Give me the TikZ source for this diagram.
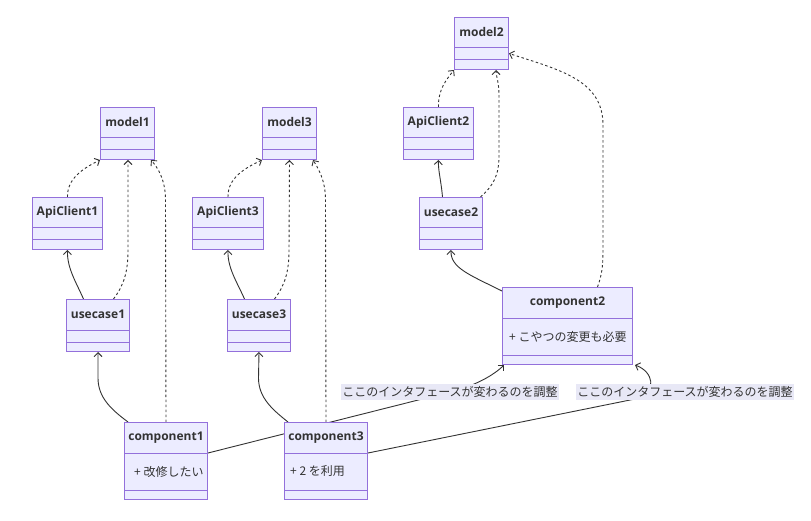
\documentclass[tikz,border=0pt]{standalone}
\usepackage{fontspec}
\setmainfont{Open Sans}
\newfontfamily\jp{Noto Sans CJK JP}
\usetikzlibrary{arrows.meta}
\definecolor{boxfill}{HTML}{ECECFF}
\definecolor{boxdraw}{HTML}{9370DB}
\definecolor{ink}{HTML}{333333}
\definecolor{lblfill}{HTML}{E8E8F6}
\pgfdeclarelayer{bg}
\pgfsetlayers{bg,main}
\tikzset{
  umlbox/.style={draw=boxdraw, fill=boxfill, line width=1pt, inner sep=0pt},
  umlline/.style={draw=boxdraw, line width=1pt},
  umltitle/.style={text=ink, font=\bfseries\fontsize{12}{14}\selectfont, inner sep=0pt},
  umlattr/.style={text=ink, font=\jp\fontsize{12}{14}\selectfont, inner sep=0pt},
  edgelbl/.style={text=ink, fill=lblfill, font=\jp\fontsize{12}{14}\selectfont, inner xsep=1pt, inner ysep=2pt},
  tip/.style={-{Straight Barb[length=4pt,width=8pt]}},
  dep/.style={draw=ink, line width=0.9pt, dash pattern=on 2.5pt off 2.5pt, tip},
  assoc/.style={draw=ink, line width=0.9pt, tip},
}
% name, left, top, width, title
\newcommand\umlclass[5]{%
  \node[umlbox, minimum width=#4, minimum height=52, anchor=north west] (#1) at (#2,#3) {};
  \draw[umlline] ([yshift=-31]#1.north west) -- ([yshift=-31]#1.north east);
  \draw[umlline] ([yshift=-43]#1.north west) -- ([yshift=-43]#1.north east);
  \node[umltitle] (#1-title) at ([yshift=-15.5]#1.north) {#5};
}
% name, left, top, width, title, attr x offset, attr
\newcommand\umlclassattr[7]{%
  \node[umlbox, minimum width=#4, minimum height=77, anchor=north west] (#1) at (#2,#3) {};
  \draw[umlline] ([yshift=-31]#1.north west) -- ([yshift=-31]#1.north east);
  \draw[umlline] ([yshift=-68]#1.north west) -- ([yshift=-68]#1.north east);
  \node[umltitle] (#1-title) at ([yshift=-15.5]#1.north) {#5};
  \node[umlattr, anchor=west] (#1-attr) at ([xshift=#6,yshift=-49.5]#1.north west) {#7};
}
\begin{document}
\begin{tikzpicture}[x=1pt,y=-1pt]
\useasboundingbox (0,0) rectangle (811,521);
\begin{pgfonlayer}{bg}
\fill[white] (0,0) rectangle (811,521);
\end{pgfonlayer}

\umlclass{model1}{100}{107}{54}{model1}
\umlclass{ApiClient1}{32}{197}{70}{ApiClient1}
\umlclass{usecase1}{66}{299}{63}{usecase1}
\umlclass{model3}{262}{107}{54}{model3}
\umlclass{ApiClient3}{192}{197}{71}{ApiClient3}
\umlclass{usecase3}{227}{299}{63}{usecase3}
\umlclass{model2}{454}{17}{54}{model2}
\umlclass{ApiClient2}{403}{107}{70}{ApiClient2}
\umlclass{usecase2}{419}{197}{63}{usecase2}
\umlclassattr{component2}{502}{287}{130}{component2}{7}{+ こやつの変更も必要}
\umlclassattr{component1}{124}{422}{83}{component1}{10}{+ 改修したい}
\umlclassattr{component3}{284}{422}{83}{component3}{6}{+ 2 を利用}

\node[edgelbl] (lbl1) at (450,392) {ここのインタフェースが変わるのを調整};
\node[edgelbl] (lbl2) at (685,392) {ここのインタフェースが変わるのを調整};

\begin{pgfonlayer}{bg}
% group 1
\draw[dep] (ApiClient1.north) .. controls (67,178) and (84,168) .. (model1.south west);
\draw[assoc] ([xshift=-14.5]usecase1.north) .. controls (76,282) and (67,268) .. (ApiClient1.south);
\draw[dep] ([xshift=15.5]usecase1.north) .. controls (124,285) and (128,272) .. (128,250) -- ([xshift=0.5]model1.south);
\draw[assoc] ([xshift=-38]component1.north) .. controls (112,410) and (98,398) .. (98,378) -- (usecase1.south);
\draw[dep] (component1.north) -- (165.5,200) .. controls (165.5,180) and (158,168) .. ([xshift=-4]model1.south east);
% group 3
\draw[dep] (ApiClient3.north) .. controls (227.5,178) and (245,168) .. (model3.south west);
\draw[assoc] ([xshift=-14.5]usecase3.north) .. controls (237,282) and (227.5,268) .. (ApiClient3.south);
\draw[dep] ([xshift=15.5]usecase3.north) .. controls (285,285) and (289,272) .. (289,250) -- (model3.south);
\draw[assoc] ([xshift=-38]component3.north) .. controls (273,410) and (258.5,398) .. (258.5,378) -- (usecase3.south);
\draw[dep] (component3.north) -- (325.5,200) .. controls (325.5,180) and (318,168) .. ([xshift=-4]model3.south east);
% group 2
\draw[dep] (ApiClient2.north) .. controls (438,90) and (446,80) .. (model2.south west);
\draw[assoc] ([xshift=-8.5]usecase2.north) .. controls (441,180) and (438,170) .. (ApiClient2.south);
\draw[dep] ([xshift=29.5]usecase2.north) .. controls (494,185) and (499,175) .. (499,155) -- (499,95) .. controls (499,82) and (496,76) .. ([xshift=-13]model2.south east);
\draw[assoc] ([yshift=-4]component2.north west) .. controls (470,275) and (450.5,268) .. (usecase2.south);
\draw[dep] ([xshift=30]component2.north) .. controls (603,272) and (603,262) .. (603,245) -- (603,125) .. controls (603,80) and (560,70) .. ([yshift=-10]model2.east);
% cross links
\draw[assoc] ([yshift=8]component1.east) -- (lbl1.center) .. controls (475,386) and (494,375) .. ([xshift=2]component2.south west);
\draw[assoc] ([yshift=8]component3.east) -- (640,398) .. controls (656,391) and (654,372) .. ([xshift=2]component2.south east);
\end{pgfonlayer}
\end{tikzpicture}
\end{document}
